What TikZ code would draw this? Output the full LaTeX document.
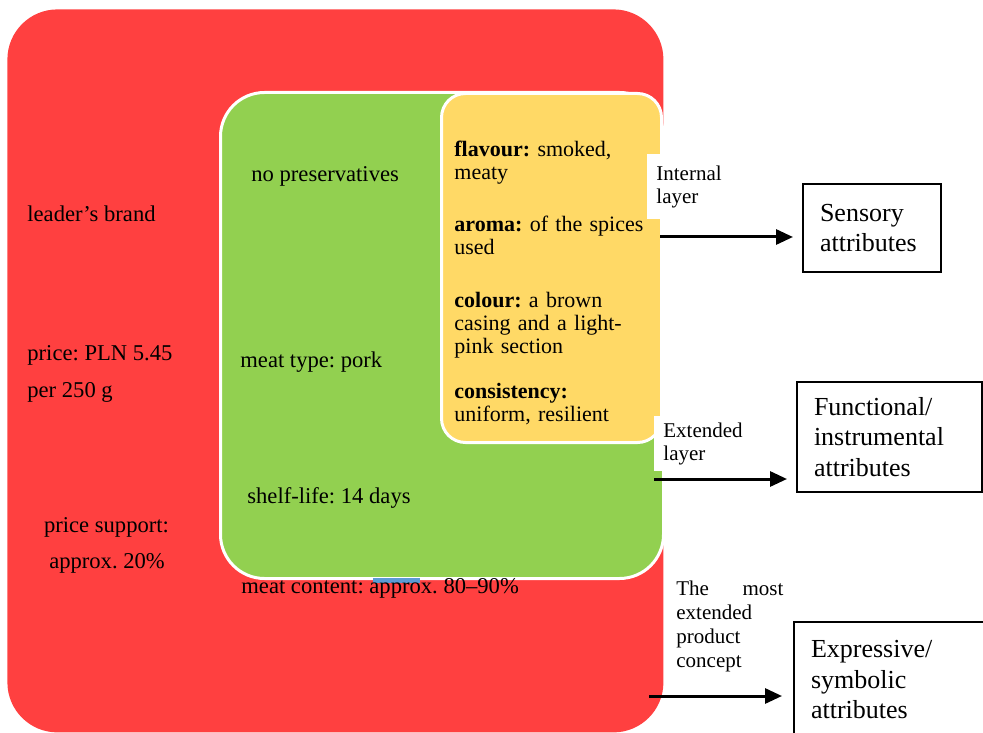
\documentclass[tikz,border=0pt]{standalone}
\usepackage{fontspec}
\setmainfont{Liberation Serif}
\usetikzlibrary{arrows.meta}

\definecolor{outerred}{HTML}{FF4040}
\definecolor{midgreen}{HTML}{92D050}
\definecolor{coreyellow}{HTML}{FFD966}
\definecolor{stripblue}{HTML}{5B9BD5}

\tikzset{
  layer/.style={anchor=north west,inner sep=0pt},
  txt/.style={anchor=base west,inner sep=0pt,font=\fontsize{11.3}{11.5}\selectfont},
  yell/.style={txt,text width=110pt,align=left,font=\fontsize{11}{11.5}\selectfont},
  tag/.style={anchor=north west,fill=white,inner xsep=4.5pt,inner ysep=0pt,
    text width=44pt,align=left,font=\fontsize{10.5}{11.5}\selectfont},
  attr/.style={draw,line width=1pt,anchor=north west,inner xsep=8.5pt,inner ysep=0pt,
    align=left,font=\fontsize{13}{15.25}\selectfont},
  link/.style={-{Triangle[length=8.5pt,width=7.5pt]},line width=1.5pt,shorten >=4.5pt}
}

\begin{document}
\frenchspacing
\begin{tikzpicture}[x=0.5pt,y=-0.5pt]
\useasboundingbox (0,0) rectangle (983,732);
\path
    (7,9) node [layer,fill=outerred,rounded corners=25pt,minimum width=328pt,minimum height=361.5pt] (outer) {}
    (219,91) node [layer,fill=midgreen,draw=white,line width=1.5pt,rounded corners=22pt,minimum width=221.5pt,minimum height=243pt] (mid) {}
    (440,92) node [layer,fill=coreyellow,draw=white,line width=1.5pt,rounded corners=12pt,minimum width=110pt,minimum height=174.5pt] (core) {}
    (373,578) node [layer,fill=stripblue,minimum width=23.5pt,minimum height=2.5pt] (strip) {};
\node [txt] (brand) at (27,222) {leader's brand};
\node [txt] (price) at (27,360) {price: PLN 5.45};
\node [txt] (per) at (27,397) {per 250 g};
\node [txt,anchor=base] (support) at (106.5,532) {price support:};
\node [txt,anchor=base] (approx) at (107,568) {approx. 20\%};
\node [txt] (pres) at (251,182) {no preservatives};
\node [txt] (meat) at (240,367) {meat type: pork};
\node [txt] (shelf) at (247,503) {shelf-life: 14 days};
\node [txt] (content) at (241,593) {meat content: approx. 80--90\%};
\node [yell] (flav) at (454,157) {\textbf{flavour:} smoked,\\meaty};
\node [yell] (aroma) at (454,232) {\textbf{aroma:} of the spices\\used};
\node [yell] (col) at (454,307) {\textbf{colour:} a brown\\casing and a light-\\pink section};
\node [yell] (cons) at (454,398) {\textbf{consistency:}\\uniform, resilient};
\node [tag,minimum height=32.5pt] (intag) at (647,154) {Internal\\layer};
\node [tag,minimum height=27.5pt] (exttag) at (654,416) {Extended\\layer};
\node [txt,font=\fontsize{10.5}{12}\selectfont,text width=53.5pt,align=left] (concept) at (676,595)
    {The\hfill most\\extended\\product\\concept};
\node [attr,minimum width=69pt,minimum height=44pt,text width=52pt] (sens) at (802,183)
    {Sensory\\attributes};
\node [attr,minimum width=92.5pt,minimum height=55pt,text width=75.5pt] (func) at (796,381)
    {Functional/\\instrumental\\attributes};
\node [attr,minimum width=105pt,minimum height=58pt,text width=88pt] (expr) at (793,621)
    {Expressive/\\symbolic\\attributes};
\coordinate (coreout) at (660,237);
\coordinate (midout) at (654,479);
\coordinate (outerout) at (649,696);
\draw [link] (coreout) -- (coreout -| sens.west);
\draw [link] (midout) -- (midout -| func.west);
\draw [link,shorten >=5.5pt] (outerout) -- (outerout -| expr.west);
\end{tikzpicture}
\end{document}
